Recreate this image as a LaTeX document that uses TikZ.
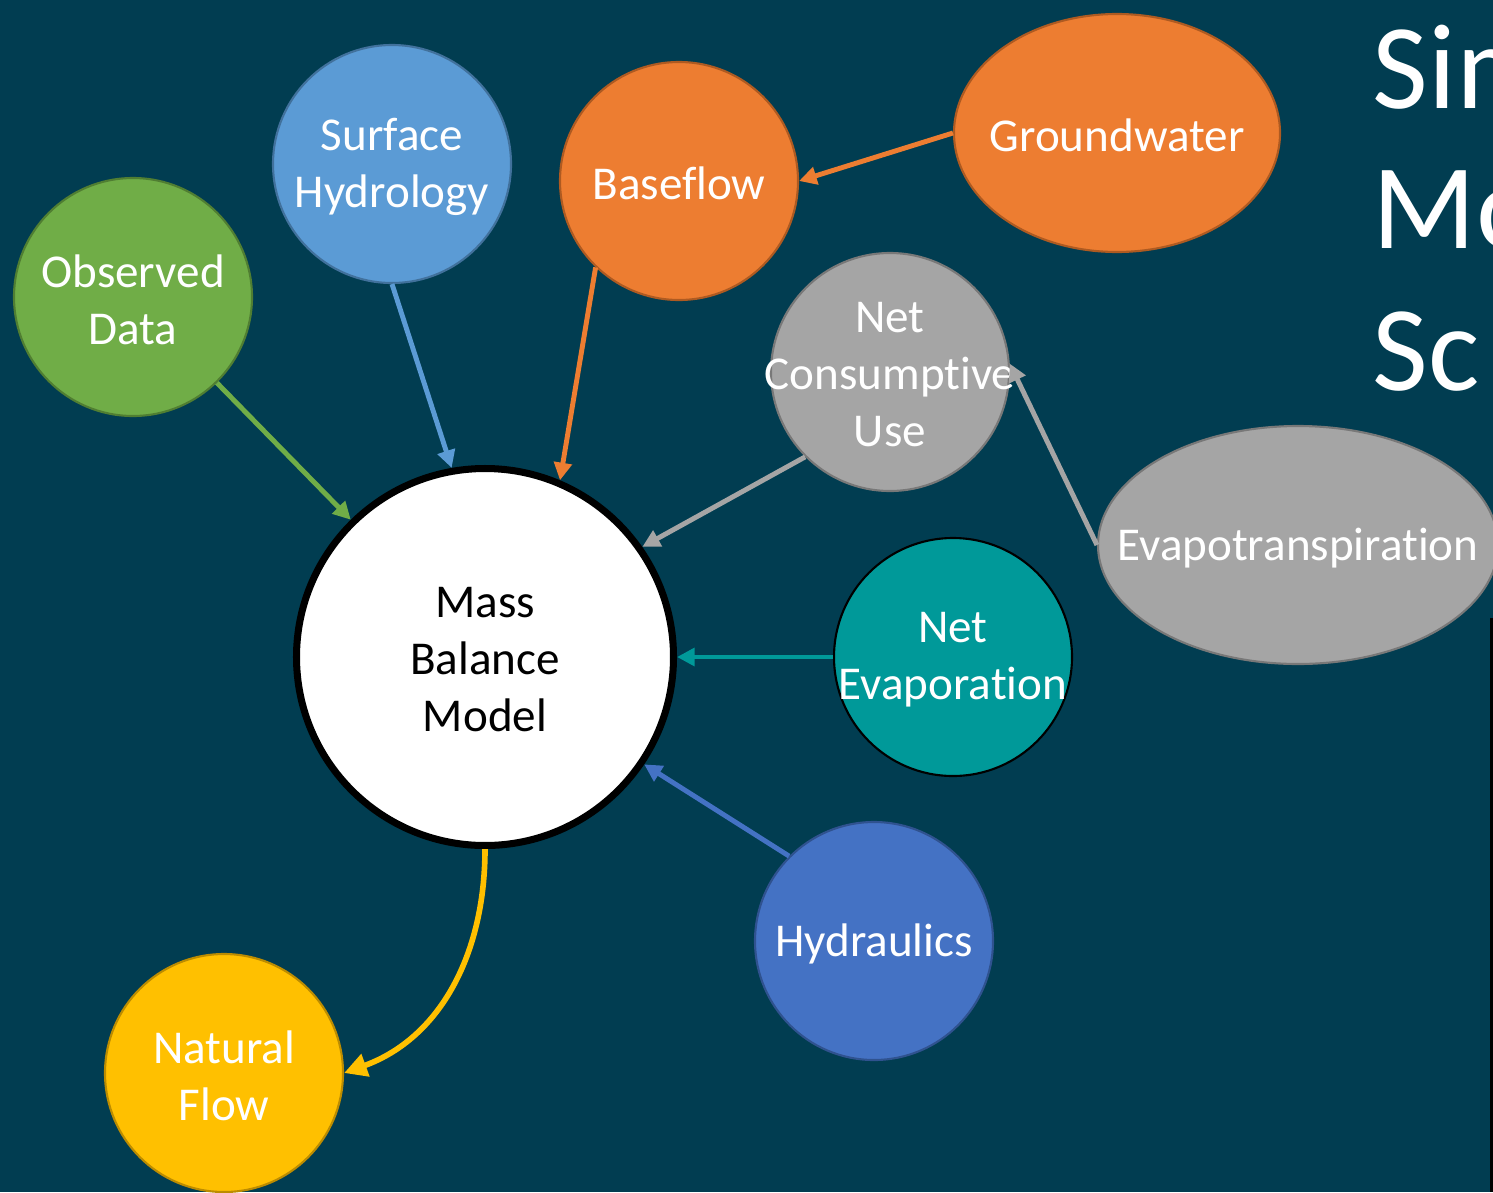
\documentclass[tikz,border=0pt]{standalone}
\usepackage{fontspec}
\setmainfont[Ligatures=NoCommon]{Carlito}
\usetikzlibrary{arrows.meta,shapes.geometric}

\definecolor{bg}{RGB}{1,61,81}
\definecolor{obsgreen}{HTML}{70AD47}  \definecolor{obsgreenD}{HTML}{507E32}
\definecolor{surfblue}{HTML}{5B9BD5}  \definecolor{surfblueD}{HTML}{41719C}
\definecolor{baseorange}{HTML}{ED7D31}\definecolor{baseorangeD}{HTML}{AE5A21}
\definecolor{usegray}{HTML}{A5A5A5}   \definecolor{usegrayD}{HTML}{787878}
\definecolor{evapteal}{HTML}{009999}
\definecolor{hydblue}{HTML}{4472C4}   \definecolor{hydblueD}{HTML}{2F528F}
\definecolor{natgold}{HTML}{FFC000}   \definecolor{natgoldD}{HTML}{BC8C00}

\begin{document}
\begin{tikzpicture}[line join=round,>={Triangle[length=5pt,width=5pt]},
  bubble/.style={circle,draw,line width=0.6pt,inner sep=0pt,minimum size=2.38cm},
  oval/.style={ellipse,draw,line width=0.6pt,inner sep=0pt,minimum height=2.38cm},
  txt/.style={text=white,align=center,inner sep=0pt,yshift=-0.8pt,font=\fontsize{13.4}{16.2}\selectfont},
  title/.style={text=white,anchor=base west,inner sep=0pt,font=\fontsize{34.5}{40}\selectfont},
  link/.style={->,line width=1.4pt}]

\fill[bg] (0,0) rectangle (14.93,-11.92);
\useasboundingbox (0,0) rectangle (14.93,-11.92);
\clip (0,0) rectangle (14.93,-11.92);

% heading, runs off the right edge
\node[title] (head1) at (13.72,-1.08) {Sim};
\node[title] (head2) at (13.72,-2.48) {Mo};
\node[title] (head3) at (13.72,-3.90) {Sc};
\draw[line width=0.9pt,black] (14.915,-6.18) -- (14.915,-11.92);

% centre model
\node[circle,draw=black,fill=white,line width=2pt,inner sep=0pt,minimum size=3.77cm,
      label={[txt,text=black]center:{Mass\\Balance\\Model}}] (mass) at (4.85,-6.57) {};

% inputs round it
\node[bubble,fill=obsgreen,draw=obsgreenD,label={[txt]center:{Observed\\Data}}] (obs) at (1.33,-2.97) {};
\node[bubble,fill=surfblue,draw=surfblueD,label={[txt]center:{Surface\\Hydrology}}] (surf) at (3.92,-1.64) {};
\node[bubble,fill=baseorange,draw=baseorangeD,label={[txt]center:{Baseflow}}] (base) at (6.79,-1.81) {};
\node[oval,minimum width=3.26cm,fill=baseorange,draw=baseorangeD,label={[txt]center:{Groundwater}}] (gw) at (11.17,-1.33) {};
\node[bubble,fill=usegray,draw=usegrayD,label={[txt]center:{Net\\Consumptive\\Use}}] (ncu) at (8.90,-3.72) {};
\node[oval,minimum width=4.0cm,fill=usegray,draw=usegrayD,label={[txt]center:{Evapotranspiration}}] (et) at (12.98,-5.45) {};
\node[bubble,fill=evapteal,draw=black,label={[txt]center:{Net\\Evaporation}}] (nevap) at (9.53,-6.57) {};
\node[bubble,fill=hydblue,draw=hydblueD,label={[txt]center:{Hydraulics}}] (hyd) at (8.74,-9.41) {};
\node[bubble,fill=natgold,draw=natgoldD,label={[txt]center:{Natural\\Flow}}] (nat) at (2.24,-10.73) {};

% links
\draw[link,obsgreen] (obs) -- (mass);
\draw[link,surfblue] (surf.south) -- (mass.100);
\draw[link,baseorange] (base.226) -- (mass.67);
\draw[link,baseorange] (gw.west) -- (base.east);
\draw[link,usegray] (ncu.225) -- (mass.35);
\draw[link,usegray] (et.west) -- (ncu.4);
\draw[link,evapteal] (nevap.west) -- (mass.east);
\draw[link,hydblue] (hyd.135) -- (mass.-34);
\draw[line width=1.6pt,natgold,-{Triangle[length=6.5pt,width=6.5pt]}] (mass.south) to[out=-90,in=20] (nat.east);
\end{tikzpicture}
\end{document}
